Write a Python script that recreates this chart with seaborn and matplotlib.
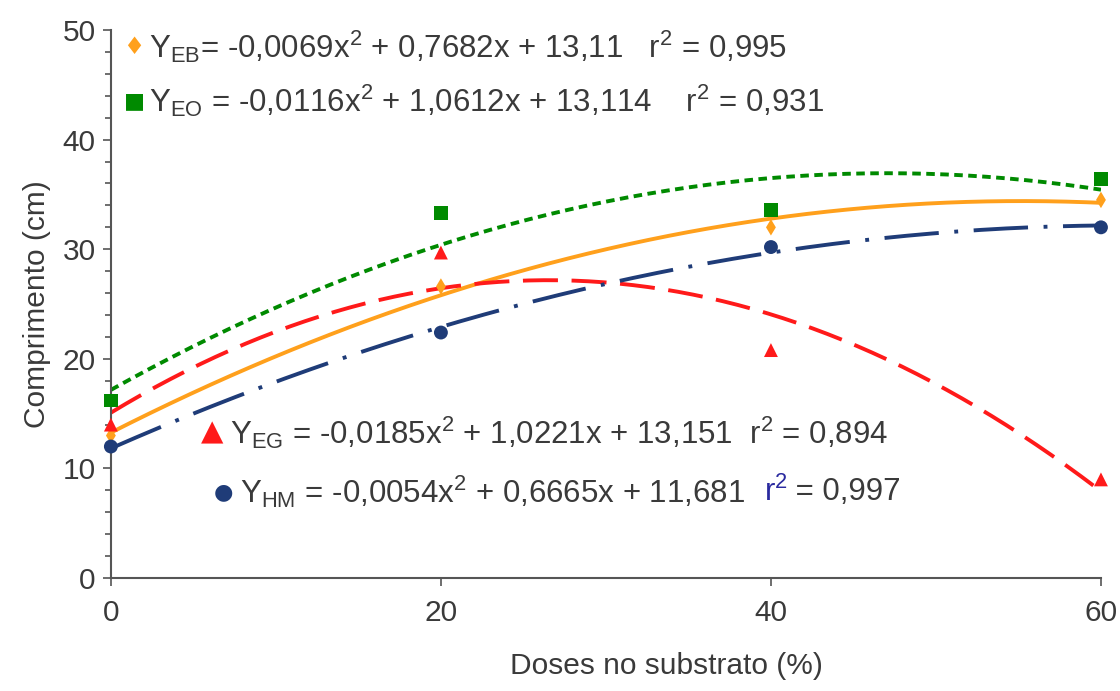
import numpy as np
import pandas as pd
import matplotlib
matplotlib.use("Agg")
import matplotlib.pyplot as plt
from matplotlib.ticker import MultipleLocator
import seaborn as sns

# values
doses = [0, 20, 40, 60]
y_eb = [13.0, 26.6, 32.0, 34.5]
y_eo = [16.2, 33.3, 33.6, 36.4]
y_eg = [14.0, 29.7, 20.8, 9.0]
y_hm = [12.0, 22.4, 30.2, 32.0]

series = ["EB", "EO", "EG", "HM"]
labels = [
    r"Y$\mathregular{_{EB}}$= -0,0069x$\mathregular{^2}$ + 0,7682x + 13,11   r$\mathregular{^2}$ = 0,995",
    r"Y$\mathregular{_{EO}}$ = -0,0116x$\mathregular{^2}$ + 1,0612x + 13,114    r$\mathregular{^2}$ = 0,931",
    r"Y$\mathregular{_{EG}}$ = -0,0185x$\mathregular{^2}$ + 1,0221x + 13,151  r$\mathregular{^2}$ = 0,894",
    r"Y$\mathregular{_{HM}}$ = -0,0054x$\mathregular{^2}$ + 0,6665x + 11,681   ",
]
glyphs = ["\u2666", "\u25A0", "\u25B2", "\u25CF"]

colors = {"EB": "#FFA01C", "EO": "#008A00", "EG": "#FF1A1A", "HM": "#1F3C78"}
markers = {"EB": "d", "EO": "s", "EG": "^", "HM": "o"}
dashes = {"EB": (None, None), "EO": (2.2, 1.4), "EG": (9, 3.5), "HM": (14, 4, 1, 4)}

df = pd.DataFrame({
    "dose": doses * 4,
    "comp": y_eb + y_eo + y_eg + y_hm,
    "trat": sum([[s] * 4 for s in series], []),
})

# quadratic trend lines, fitted to the points like the spreadsheet did
xs = np.linspace(0, 60, 200)
fits = []
for s in series:
    sub = df[df.trat == s]
    c = np.polyfit(sub.dose, sub.comp, 2)
    fits.append(pd.DataFrame({"dose": xs, "comp": np.polyval(c, xs), "trat": s}))
df_fit = pd.concat(fits)

sns.set_style("ticks")
plt.rcParams["font.family"] = ["Liberation Sans", "DejaVu Sans"]
plt.rcParams["mathtext.fontset"] = "custom"
plt.rcParams["mathtext.rm"] = "Liberation Sans"

FS = 22.5
TXT = "#3a3a3a"

fig = plt.figure(figsize=(11.2, 6.91), dpi=100)
ax = fig.add_axes([0.099, 0.1635, 0.884, 0.793])

for s in series:
    sub = df_fit[df_fit.trat == s]
    ls = "-" if s == "EB" else (0, dashes[s])
    sns.lineplot(data=sub, x="dose", y="comp", color=colors[s], lw=2.8,
                 linestyle=ls, ax=ax, legend=False)

for s in series:
    sub = df[df.trat == s]
    size = 100 if s != "EB" else 70
    sns.scatterplot(data=sub, x="dose", y="comp", color=colors[s], marker=markers[s],
                    s=size, edgecolor="none", ax=ax, legend=False, zorder=5, clip_on=False)

ax.set_xlim(0, 60)
ax.set_ylim(0, 50)
ax.set_xticks([0, 20, 40, 60])
ax.yaxis.set_major_locator(MultipleLocator(10))
ax.yaxis.set_minor_locator(MultipleLocator(2))
ax.tick_params(axis="both", which="major", labelsize=21.5, length=6, width=1.2,
               color="#555555", labelcolor=TXT, pad=5)
ax.tick_params(axis="y", which="minor", length=4.5, width=1.2, color="#555555")
ax.tick_params(axis="x", pad=9)
ax.set_xlabel("Doses no substrato (%)", fontsize=21.5, color=TXT, labelpad=12)
ax.set_ylabel("Comprimento (cm)", fontsize=21.5, color=TXT, labelpad=8)
ax.xaxis.set_label_coords(0.561, -0.135)
for sp in ["left", "bottom"]:
    ax.spines[sp].set_color("#555555")
    ax.spines[sp].set_linewidth(1.5)
sns.despine(ax=ax)

# equation labels
pos = [(0.039, 0.969), (0.039, 0.870), (0.120, 0.265), (0.130, 0.157)]
gpos = [(0.034, 0.969), (0.034, 0.870), (0.114, 0.265), (0.123, 0.157)]
gsize = [17, 16, 21, 16]
for i, s in enumerate(series):
    ax.text(*gpos[i], glyphs[i], transform=ax.transAxes, color=colors[s],
            fontsize=gsize[i], ha="right", va="center", family="DejaVu Sans")
    t = ax.text(*pos[i], labels[i], transform=ax.transAxes, color=TXT,
                fontsize=FS, ha="left", va="center")
    if s == "HM":
        fig.canvas.draw()
        bb = t.get_window_extent().transformed(ax.transAxes.inverted())
        r = ax.text(bb.x1, pos[i][1], r"r$\mathregular{^2}$", transform=ax.transAxes,
                    color="#2A2A9F", fontsize=FS, ha="left", va="center")
        fig.canvas.draw()
        rb = r.get_window_extent().transformed(ax.transAxes.inverted())
        ax.text(rb.x1, pos[i][1], " = 0,997", transform=ax.transAxes,
                color=TXT, fontsize=FS, ha="left", va="center")

fig.savefig("out.png", dpi=100)
